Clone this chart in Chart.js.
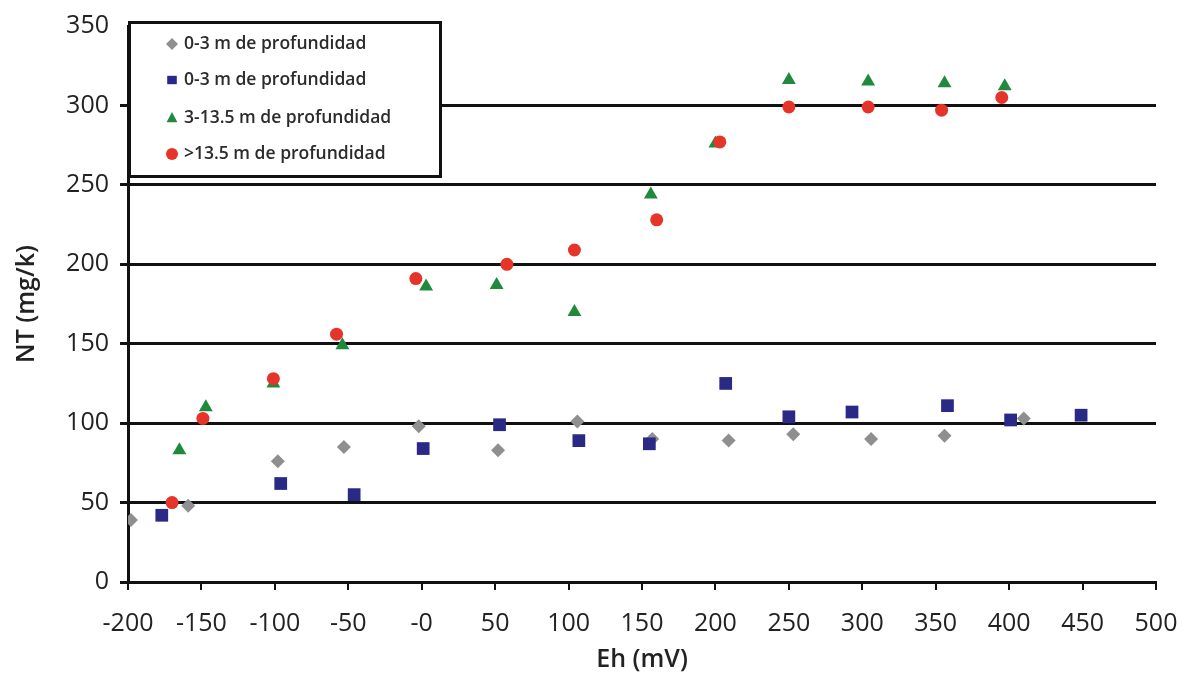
<!DOCTYPE html>
<html>
<head>
<meta charset="utf-8">
<script src="https://cdn.jsdelivr.net/npm/chart.js@4/dist/chart.umd.min.js"></script>
<style>
  html, body { margin: 0; padding: 0; background: #fff; }
  #wrap { width: 1190px; height: 677px; }
</style>
</head>
<body>
<div id="wrap"><canvas id="nt" width="1190" height="677"></canvas></div>
<script>
// Eh (mV) vs NT (mg/k)
var seriesNames = ["0-3 m de profundidad", "0-3 m de profundidad", "3-13.5 m de profundidad", ">13.5 m de profundidad"];

var grayEh = [-198, -159, -98, -53, -2, 52, 106, 157, 209, 253, 306, 356, 410];
var grayNT = [39, 48, 76, 85, 98, 83, 101, 90, 89, 93, 90, 92, 103];

var blueEh = [-177, -96, -46, 1, 53, 107, 155, 207, 250, 293, 358, 401, 449];
var blueNT = [42, 62, 55, 84, 99, 89, 87, 125, 104, 107, 111, 102, 105];

var greenEh = [-165, -147, -101, -54, 3, 51, 104, 156, 200, 250, 304, 356, 397];
var greenNT = [83, 110, 125, 149, 186, 187, 170, 244, 276, 316, 315, 314, 312];

var redEh = [-170, -149, -101, -58, -4, 58, 104, 160, 203, 250, 304, 354, 395];
var redNT = [50, 103, 128, 156, 191, 200, 209, 228, 277, 299, 299, 297, 305];

var xTicks = [-200, 500, 50];   // min, max, step
var yTicks = [0, 350, 50];

function pts(xs, ys) {
    var out = [];
    for (var i = 0; i < xs.length; i++) out.push({x: xs[i], y: ys[i]});
    return out;
}

var styles = [
    {color: "#8f8f8f", shape: "rectRot", r: 7},
    {color: "#2a2a86", shape: "rect", r: 9},
    {color: "#1f8a3e", shape: "triangle", r: 8},
    {color: "#e5352b", shape: "circle", r: 6.5}
];

function drawMark(ctx, st, x, y, r) {
    ctx.save();
    ctx.fillStyle = st.color;
    ctx.beginPath();
    if (st.shape === "rect") {
        ctx.rect(x - r * 0.8, y - r * 0.7, r * 1.6, r * 1.4);
    } else if (st.shape === "rectRot") {
        ctx.moveTo(x, y - r); ctx.lineTo(x + r, y); ctx.lineTo(x, y + r); ctx.lineTo(x - r, y);
        ctx.closePath();
    } else if (st.shape === "triangle") {
        ctx.moveTo(x, y - r); ctx.lineTo(x + r * 0.9, y + r * 0.7); ctx.lineTo(x - r * 0.9, y + r * 0.7);
        ctx.closePath();
    } else {
        ctx.arc(x, y, r, 0, Math.PI * 2);
    }
    ctx.fill();
    ctx.restore();
}

// legend box in the upper left of the plot
var boxLegend = {
    id: "boxLegend",
    afterDraw: function (chart) {
        var ctx = chart.ctx;
        var a = chart.chartArea;
        var x0 = a.left, y0 = 21, w = 314, h = 157;
        ctx.save();
        ctx.fillStyle = "#fff";
        ctx.fillRect(x0, y0, w, h);
        ctx.lineWidth = 3;
        ctx.strokeStyle = "#111";
        ctx.strokeRect(x0 + 1.5, y0 + 1.5, w - 3, h - 3);
        ctx.font = "600 17.5px 'Open Sans'";
        ctx.fillStyle = "#2b2b2b";
        ctx.textBaseline = "middle";
        var rows = [44, 80, 118, 154];
        for (var i = 0; i < seriesNames.length; i++) {
            drawMark(ctx, styles[i], x0 + 44, rows[i], 6);
            ctx.fillText(seriesNames[i], x0 + 56, rows[i]);
        }
        ctx.restore();
    }
};

var xyData = [pts(grayEh, grayNT), pts(blueEh, blueNT), pts(greenEh, greenNT), pts(redEh, redNT)];
var drawOrder = [3, 1, 2, 0];

var datasets = xyData.map(function (d, i) {
    return {
        label: seriesNames[i],
        data: d,
        order: drawOrder[i],
        pointStyle: styles[i].shape,
        pointRadius: styles[i].r,
        pointHoverRadius: styles[i].r,
        backgroundColor: styles[i].color,
        borderColor: styles[i].color,
        borderWidth: 0,
        showLine: false
    };
});

var ctx = document.getElementById("nt");
var myChart = new Chart(ctx, {
    type: "scatter",
    data: { datasets: datasets },
    options: {
        responsive: false,
        animation: false,
        layout: { padding: { top: 24, right: 34, bottom: 0, left: 0 } },
        plugins: { legend: { display: false }, tooltip: { enabled: false } },
        scales: {
            x: {
                type: "linear",
                min: xTicks[0], max: xTicks[1],
                afterFit: function (s) { s.height = 95; s.paddingLeft = 0; s.paddingRight = 0; },
                ticks: {
                    stepSize: xTicks[2],
                    autoSkip: false,
                    color: "#222",
                    padding: 19,
                    maxRotation: 0,
                    font: { family: "'Open Sans'", size: 25 },
                    callback: function (v) { return v === 0 ? "-0" : v; }
                },
                grid: { drawOnChartArea: false, drawTicks: true, tickLength: 8, color: "#111", lineWidth: 2 },
                border: { display: true, color: "#111", width: 3 },
                title: {
                    display: true, text: "Eh (mV)", color: "#222",
                    font: { family: "'Open Sans'", size: 25, weight: "600" },
                    padding: { top: 0, bottom: 2 }
                }
            },
            y: {
                type: "linear",
                min: yTicks[0], max: yTicks[1],
                afterFit: function (s) { s.width = 128; },
                ticks: {
                    stepSize: yTicks[2],
                    color: "#222",
                    padding: 11,
                    font: { family: "'Open Sans'", size: 25 }
                },
                grid: {
                    drawTicks: true, tickLength: 8, lineWidth: 3,
                    color: function (c) { return c.tick && c.tick.value === 350 ? "rgba(0,0,0,0)" : "#111"; }
                },
                border: { display: true, color: "#111", width: 3 },
                title: {
                    display: true, text: "NT (mg/k)", color: "#222",
                    font: { family: "'Open Sans'", size: 25, weight: "600" },
                    padding: { top: 12, bottom: 0 }
                }
            }
        }
    },
    plugins: [boxLegend]
});
</script>
</body>
</html>
